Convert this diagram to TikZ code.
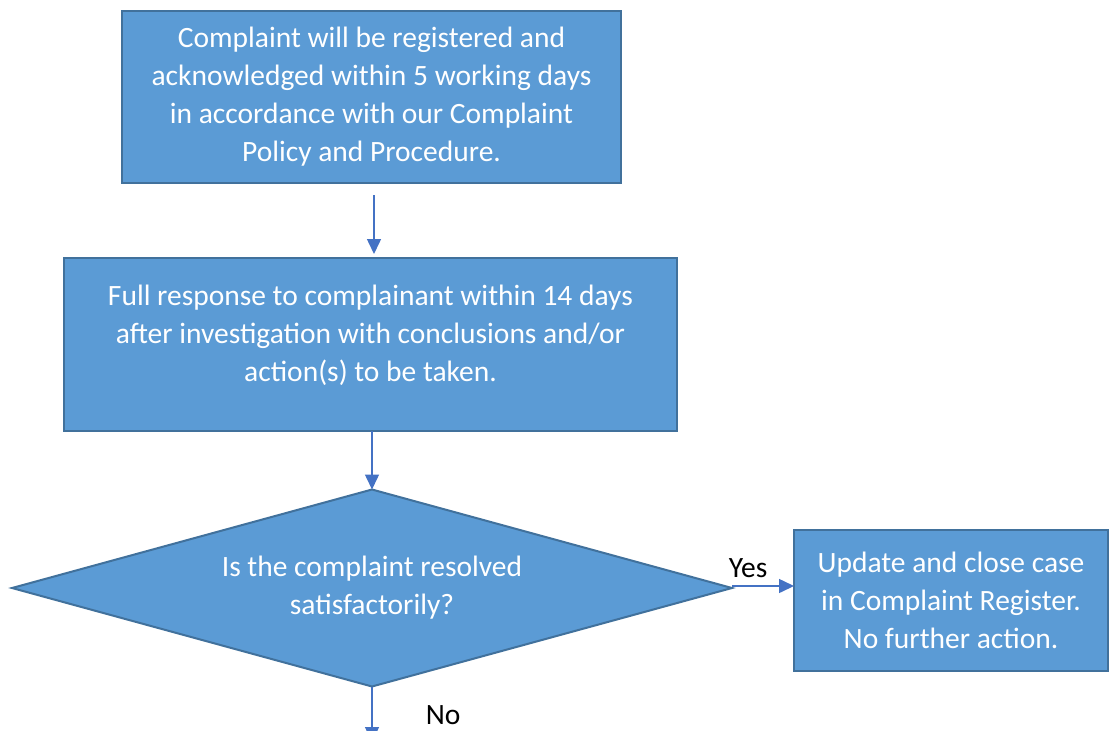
\documentclass[tikz,border=0pt]{standalone}
\usepackage{fontspec}
\setmainfont{Carlito}
\usetikzlibrary{shapes.geometric,arrows.meta}
\definecolor{boxblue}{HTML}{5B9BD5}
\definecolor{boxedge}{HTML}{41719C}
\definecolor{arrowblue}{HTML}{4472C4}

\begin{document}
\begin{tikzpicture}[x=1pt,y=-1pt]
  \useasboundingbox (0,0) rectangle (1115,730);

      \begin{scope}[every node/.style={fill=boxblue, draw=boxedge, line width=2pt, text=white,
          font=\fontsize{29.5}{38}\selectfont, align=center, inner sep=0pt, outer sep=0pt}]
        \node[rectangle, minimum width=499pt, minimum height=172pt] (reg) at (371.5,97)
          {Complaint will be registered and\\ acknowledged within 5 working days\\
           in accordance with our Complaint\\ Policy and Procedure.};
        \node[rectangle, minimum width=613pt, minimum height=173pt] (resp) at (370.5,344.5) {};
        \node[fill=none, draw=none] (resptext) at (370.5,335)
          {Full response to complainant within 14 days\\ after investigation with conclusions and/or\\
           action(s) to be taken.};
        \node[diamond, aspect=3.65, minimum width=720pt, minimum height=197pt] (ask) at (372,588)
          {Is the complaint resolved\\ satisfactorily?};
        \node[rectangle, minimum width=314pt, minimum height=141pt] (close) at (951,600.5)
          {Update and close case\\ in Complaint Register.\\ No further action.};
      \end{scope}

      \coordinate (next) at (372,742);

      \begin{scope}[every node/.style={font=\fontsize{29.5}{36}\selectfont, text=black, inner sep=1pt}]
        \begin{scope}[every edge/.style={draw=arrowblue, line width=1.5pt,
            -{Triangle[width=14pt,length=15pt]}}]
          \path ([xshift=2.5pt]reg.south) edge[shorten <=12pt, shorten >=4pt] ([xshift=3.5pt]resp.north);
          \path (resp.south -| ask.north) edge (ask.north);
          \path ([yshift=2pt]ask.east) edge node[pos=0.26, above=7pt] {Yes} ([yshift=2pt]ask.east -| close.west);
          \path (ask.south) edge node[pos=0.52, right=52pt] {No} (next);
        \end{scope}
      \end{scope}

\end{tikzpicture}
\end{document}
